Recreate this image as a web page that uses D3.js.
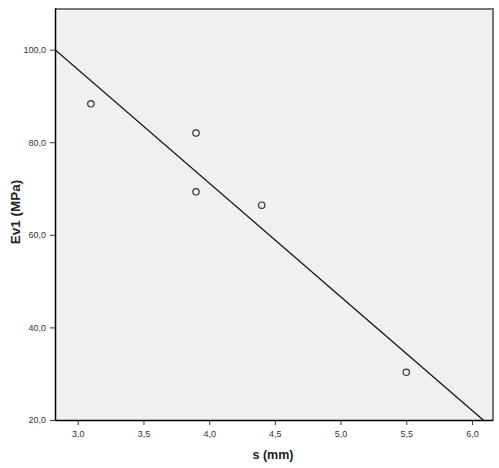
<!DOCTYPE html>
<html>
<head>
<meta charset="utf-8">
<script src="https://cdn.jsdelivr.net/npm/d3@7"></script>
<style>
body{margin:0;background:#fff}
text{font-family:Arial,"Liberation Sans",sans-serif}
</style>
</head>
<body>
<svg width="499" height="468"></svg>
<script>
// measured values
const sVals=[3.1,3.9,3.9,4.4,5.5]
const evVals=[88.3,82.0,69.3,66.4,30.3]
const xTicks=[3.0,3.5,4.0,4.5,5.0,5.5,6.0]
const yTicks=[20,40,60,80,100]

const svg=d3.select("svg")
const L=55,R=493,T=8,B=420
const x=d3.scaleLinear().domain([2.827,6.16]).range([L,R])
const y=d3.scaleLinear().domain([20,109]).range([B,T])
const fmt=d=>d3.format(".1f")(d).replace(".",",")

svg.append("rect").attr("x",L).attr("y",T).attr("width",R-L).attr("height",B-T).attr("fill","#f0f0f0")

// least squares fit
const mx=d3.mean(sVals),my=d3.mean(evVals)
let sxy=0,sxx=0
sVals.forEach((v,i)=>{sxy+=(v-mx)*(evVals[i]-my);sxx+=(v-mx)*(v-mx)})
const k=sxy/sxx,b0=my-k*mx
const x0=x.domain()[0],x1=(20-b0)/k
svg.append("clipPath").attr("id","cp").append("rect").attr("x",L).attr("y",T).attr("width",R-L).attr("height",B-T)
svg.append("line").attr("clip-path","url(#cp)")
.attr("x1",x(x0)).attr("y1",y(b0+k*x0)).attr("x2",x(x1)).attr("y2",y(b0+k*x1))
.attr("stroke","#111").attr("stroke-width",1.3)

svg.selectAll("circle.p").data(sVals).join("circle").attr("class","p")
.attr("cx",d=>x(d)).attr("cy",(d,i)=>y(evVals[i])).attr("r",3.2)
.attr("fill","none").attr("stroke","#333").attr("stroke-width",1.2)

// frame
svg.append("path").attr("d",`M${L},${T+1}H${R}V${B}`).attr("fill","none").attr("stroke","#777").attr("stroke-width",2)

const xa=svg.append("g").attr("transform",`translate(0,${B})`)
.call(d3.axisBottom(x).tickValues(xTicks).tickFormat(fmt).tickSize(5).tickSizeOuter(0))
const ya=svg.append("g").attr("transform",`translate(${L},0)`)
.call(d3.axisLeft(y).tickValues(yTicks).tickFormat(fmt).tickSize(5).tickSizeOuter(0))
;[xa,ya].forEach(g=>{
g.select(".domain").attr("stroke","#000").attr("stroke-width",1.5)
g.selectAll(".tick line").attr("stroke","#333")
g.selectAll(".tick text").attr("font-size",9).attr("fill","#333").attr("font-family","Arial,'Liberation Sans',sans-serif")
})
xa.selectAll(".tick text").attr("dy","0.95em")
ya.selectAll(".tick text").attr("dx","-0.1em")

svg.append("text").attr("x",(L+R)/2-1).attr("y",459).attr("text-anchor","middle")
.attr("font-size",12.5).attr("font-weight","bold").attr("fill","#222").text("s (mm)")
svg.append("text").attr("transform",`translate(20,212) rotate(-90)`).attr("text-anchor","middle")
.attr("font-size",13.5).attr("font-weight","bold").attr("fill","#222").text("Ev1 (MPa)")
</script>
</body>
</html>
